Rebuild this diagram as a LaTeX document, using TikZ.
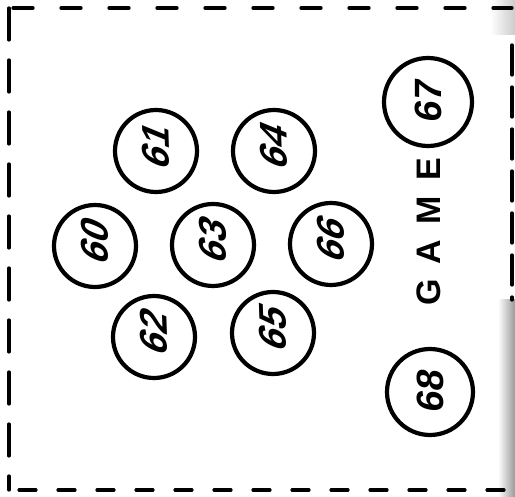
\documentclass[tikz,border=0pt]{standalone}
\usepackage{fontspec}
\setmainfont{Liberation Sans}
\newfontfamily\handslant[FakeSlant=0.45]{Liberation Sans}
\newfontfamily\handup[FakeSlant=0.15]{Liberation Sans}
\newfontfamily\handgame[LetterSpace=45]{Liberation Sans}
\begin{document}
\begin{tikzpicture}[x=1pt,y=-1pt,
  ball/.style={circle,draw=black,line width=4.2pt,minimum size=82pt,inner sep=0pt},
  numA/.style={rotate=92,font=\handslant\bfseries\fontsize{38}{38}\selectfont},
  numB/.style={rotate=90,font=\handup\bfseries\fontsize{38}{38}\selectfont},
  edge/.style={line width=3.2pt,line cap=round}]
\useasboundingbox (0,0) rectangle (515,497);
\fill[white] (0,0) rectangle (515,497);
% scan shading on the right
\shade[left color=white,right color=black!40] (498,300) rectangle (515,497);
\shade[left color=white,right color=black!20] (490,0) rectangle (515,35);
% dashed border
\coordinate (tl) at (9,8);
\coordinate (tr) at (512,8);
\coordinate (bl) at (9,490);
\coordinate (br) at (512,490);
\coordinate (rtop) at (512,45);
\coordinate (rbot) at (512,300);
\draw[edge,dash pattern=on 20pt off 28pt,dash phase=-4pt] (tl) -- (tr);
\draw[edge,dash pattern=on 32pt off 20pt] (tl) -- (bl);
\draw[edge,dash pattern=on 17pt off 22pt,dash phase=-10pt] (bl) -- (br);
\draw[edge,dash pattern=on 30pt off 12pt] (rtop) -- (rbot);
% balls
\node[ball] (b61) at (156,151) {};
\node[ball] (b64) at (274,151) {};
\node[ball] (b60) at (95,246) {};
\node[ball] (b63) at (213,245) {};
\node[ball] (b66) at (331,244) {};
\node[ball] (b62) at (154,337) {};
\node[ball] (b65) at (273,333) {};
\node[ball,minimum size=88pt] (b67) at (428,102) {};
\node[ball,minimum size=86pt] (b68) at (430,392) {};
\node[numA] at (b61) {61};
\node[numA] at (b64) {64};
\node[numA] at (b60) {60};
\node[numA] at (b63) {63};
\node[numA] at (b66) {66};
\node[numA] at (b62) {62};
\node[numA] at (b65) {65};
\node[numB] at (b67) {67};
\node[numB] at (b68) {68};
\node[rotate=90,font=\handgame\bfseries\fontsize{34}{34}\selectfont] (game) at (429,232) {GAME};
\end{tikzpicture}
\end{document}
